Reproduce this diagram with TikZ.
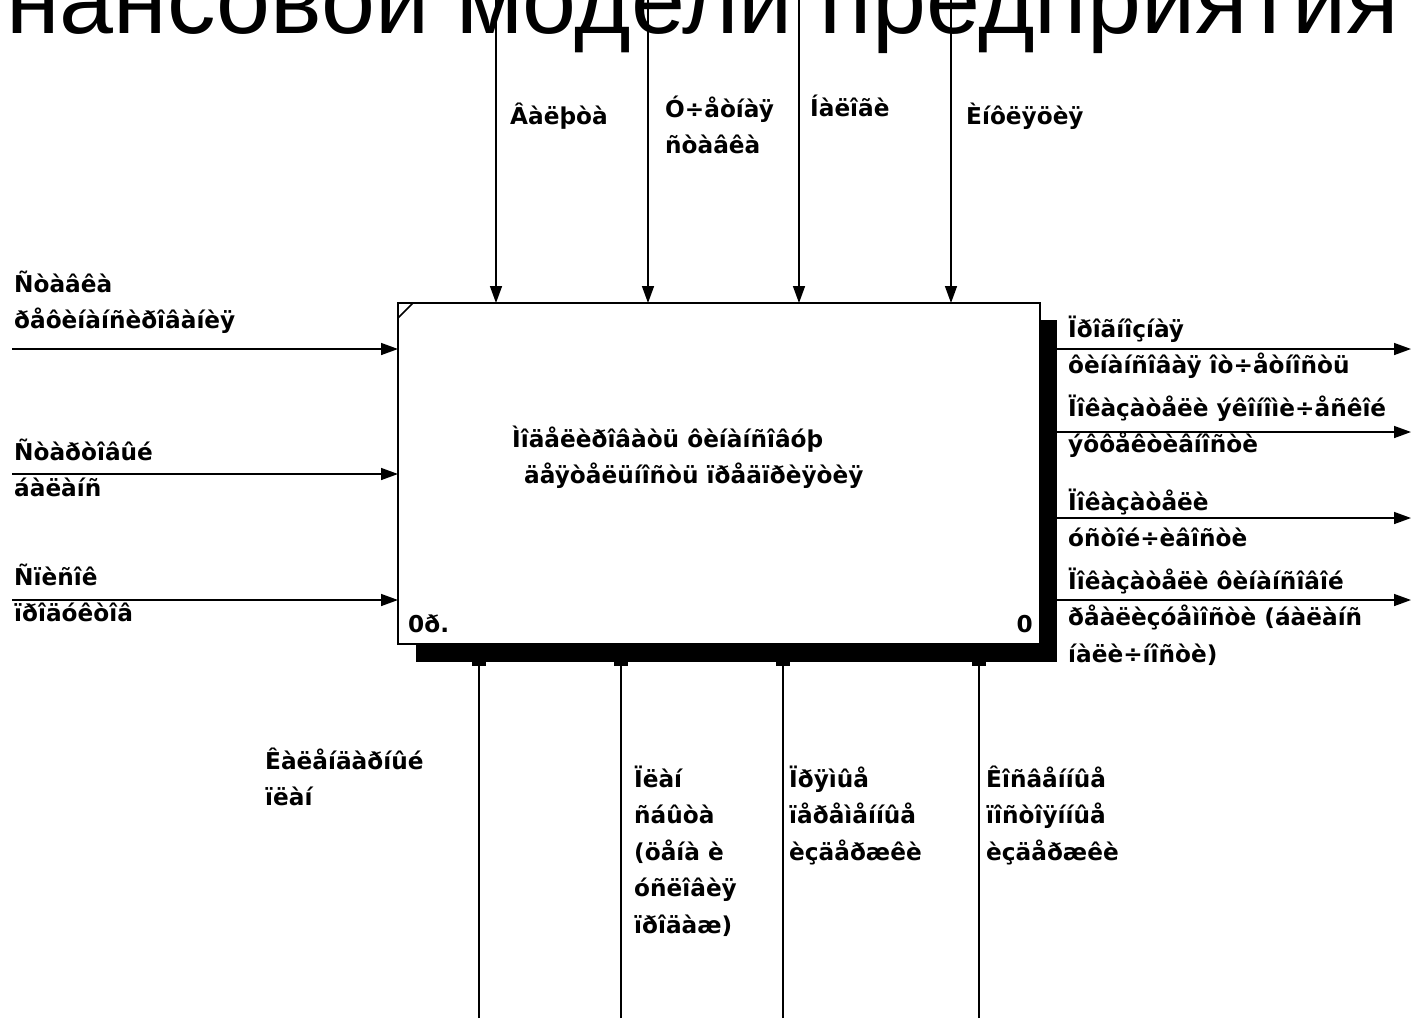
\documentclass[tikz,border=0pt]{standalone}
\usepackage{fontspec}
\setmainfont{Liberation Sans}
\newfontfamily\lblfont{DejaVu Sans}
\usetikzlibrary{arrows.meta,calc}
\begin{document}
\begin{tikzpicture}[x=1pt,y=-1pt,
  lbl/.style={font=\lblfont\bfseries\fontsize{23.2}{36.5}\selectfont, inner sep=0, anchor=base west, align=left},
  arr/.style={line width=1.5pt, -{Triangle[length=17pt,width=12pt]}},
  shadowfill/.style={fill=black}]
\useasboundingbox (0,0) rectangle (1412,1018);
\fill[white] (0,0) rectangle (1412,1018);

% title (cut off at the top)
\node[font=\fontsize{97}{97}\selectfont, inner sep=0, anchor=base west] (title) at (6,33) {нансовой модели предприятия};

% main box
\node[draw, line width=2.5pt, fill=white, minimum width=642pt, minimum height=341pt, inner sep=0, outer sep=0] (box) at (719,473.5) {};

% end coordinates
\coordinate (c1) at (496,0);
\coordinate (c2) at (648,0);
\coordinate (c3) at (799,0);
\coordinate (c4) at (951,0);
\coordinate (i1) at (12,349);
\coordinate (i2) at (12,474);
\coordinate (i3) at (12,600);
\coordinate (o1) at (1411,349);
\coordinate (o2) at (1411,432);
\coordinate (o3) at (1411,518);
\coordinate (o4) at (1411,600);
\coordinate (m1) at (479,1018);
\coordinate (m2) at (621,1018);
\coordinate (m3) at (783,1018);
\coordinate (m4) at (979,1018);

% controls
\foreach \c in {c1,c2,c3,c4} \draw[arr] (\c) -- (\c |- box.north);
% inputs
\foreach \i in {i1,i2,i3} \draw[arr] (\i) -- (\i -| box.west);
% outputs
\foreach \o in {o1,o2,o3,o4} \draw[arr] (\o -| box.east) -- (\o);
% mechanisms
\foreach \m in {m1,m2,m3,m4} \draw[arr] (\m) -- (\m |- box.south);

% shadow
\fill[shadowfill] ($(box.north east)+(0,17)$) rectangle ($(box.south east)+(17,18)$);
\fill[shadowfill] ($(box.south west)+(18,0)$) rectangle ($(box.south east)+(17,18)$);
% mechanism arrow tabs under the shadow
\foreach \m in {m1,m2,m3,m4} \fill ($(\m |- box.south)+(-7,18)$) rectangle ($(\m |- box.south)+(7,22)$);

% corner mark
\draw[line width=1.5pt] ([yshift=-15pt]box.north west) -- ([xshift=15pt]box.north west);

% box texts (anchor = baseline of the last line)
\node[lbl] (fn) at (512,483.5) {Ìîäåëèðîâàòü ôèíàíñîâóþ\\\hspace*{12pt}äåÿòåëüíîñòü ïðåäïðèÿòèÿ};
\node[lbl] (cost) at (408,632) {0ð.};
\node[lbl, anchor=base east] (num) at (1033,632) {0};

% control labels
\node[lbl] (lc1) at (510,124) {Âàëþòà};
\node[lbl] (lc2) at (665,153.5) {Ó÷åòíàÿ\\ñòàâêà};
\node[lbl] (lc3) at (810,116) {Íàëîãè};
\node[lbl] (lc4) at (966,124) {Èíôëÿöèÿ};

% input labels
\node[lbl] (li1) at (14,328.5) {Ñòàâêà\\ðåôèíàíñèðîâàíèÿ};
\node[lbl] (li2) at (14,496.5) {Ñòàðòîâûé\\áàëàíñ};
\node[lbl] (li3) at (14,621.5) {Ñïèñîê\\ïðîäóêòîâ};

% output labels
\node[lbl] (lo1) at (1068,373.5) {Ïðîãíîçíàÿ\\ôèíàíñîâàÿ îò÷åòíîñòü};
\node[lbl] (lo2) at (1068,452.5) {Ïîêàçàòåëè ýêîíîìè÷åñêîé\\ýôôåêòèâíîñòè};
\node[lbl] (lo3) at (1068,546.5) {Ïîêàçàòåëè\\óñòîé÷èâîñòè};
\node[lbl] (lo4) at (1068,662) {Ïîêàçàòåëè ôèíàíñîâîé\\ðåàëèçóåìîñòè (áàëàíñ\\íàëè÷íîñòè)};

% mechanism labels
\node[lbl] (lm1) at (265,805.5) {Êàëåíäàðíûé\\ïëàí};
\node[lbl] (lm2) at (634,933) {Ïëàí\\ñáûòà\\(öåíà è\\óñëîâèÿ\\ïðîäàæ)};
\node[lbl] (lm3) at (789,860) {Ïðÿìûå\\ïåðåìåííûå\\èçäåðæêè};
\node[lbl] (lm4) at (986,860) {Êîñâåííûå\\ïîñòîÿííûå\\èçäåðæêè};
\end{tikzpicture}
\end{document}
